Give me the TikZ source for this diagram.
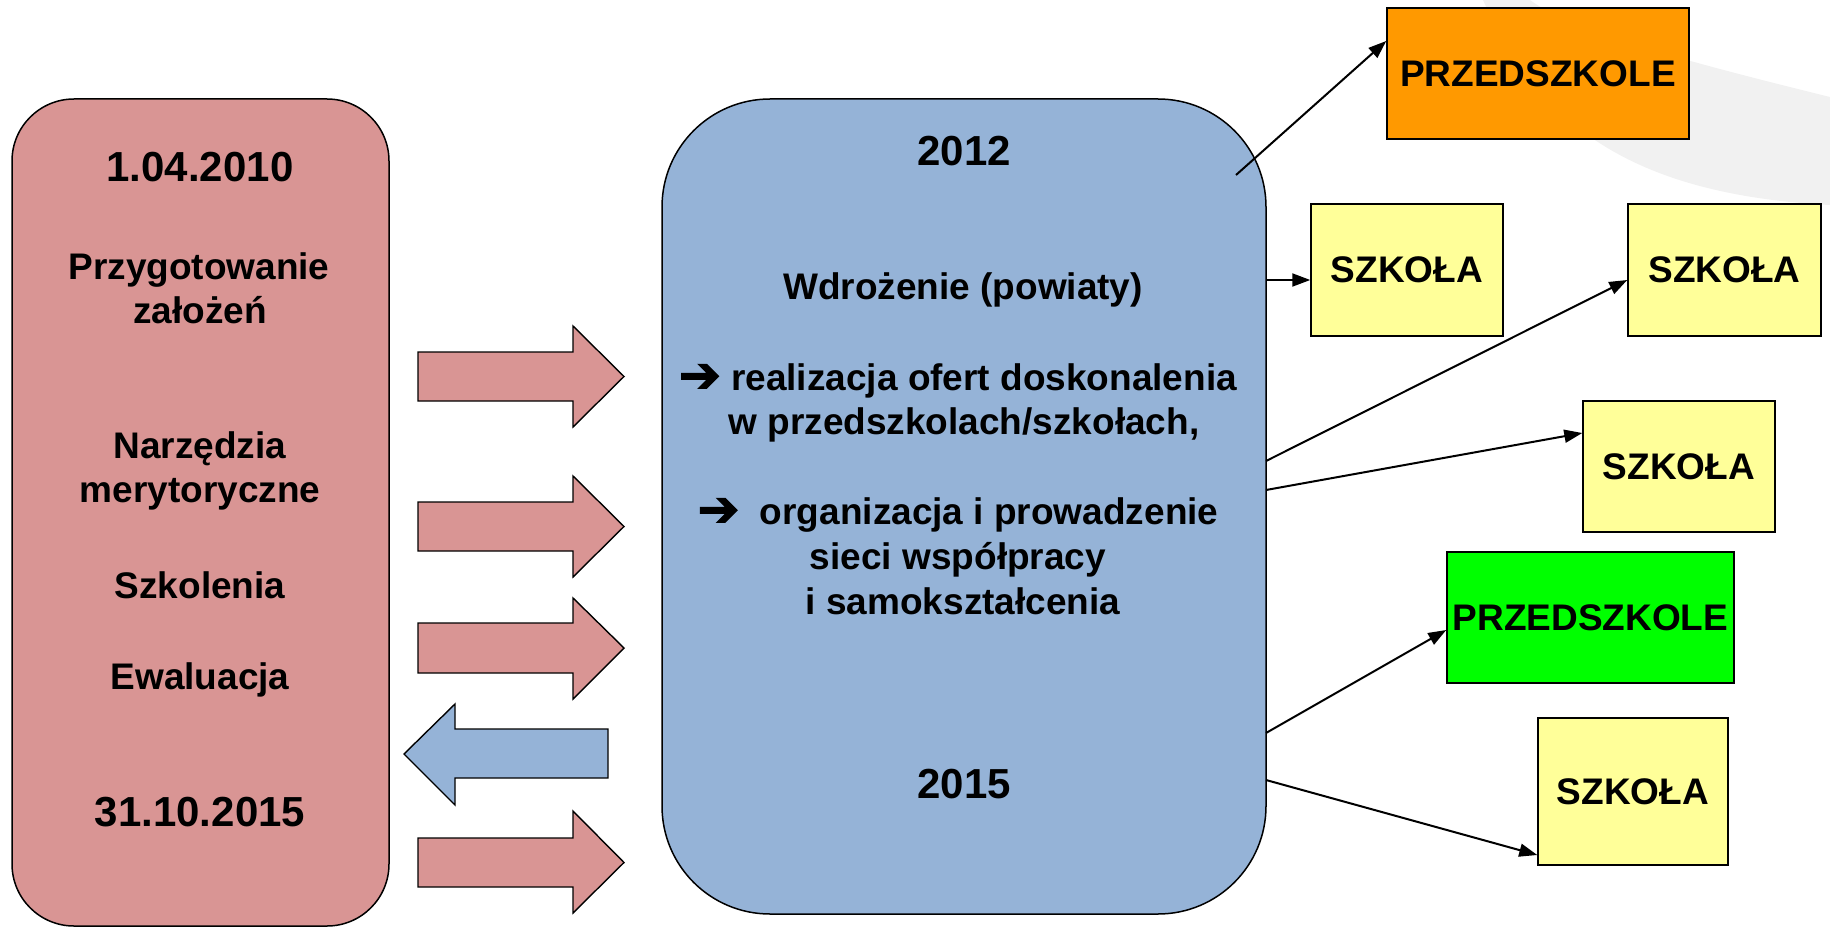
\documentclass[tikz,border=0pt]{standalone}
\usepackage{fontspec}
\setmainfont{Liberation Sans}
\newfontfamily\arrowfont[FakeBold=2.5]{DejaVu Sans Bold}
\usetikzlibrary{arrows.meta}
\definecolor{pinkc}{HTML}{D99594}
\definecolor{bluec}{HTML}{95B3D7}
\definecolor{yellowc}{HTML}{FFFF99}
\definecolor{orangec}{HTML}{FF9900}
\definecolor{greenc}{HTML}{00FF00}
\definecolor{swoosh}{HTML}{F1F1F1}
\newcommand{\bigarr}{{\arrowfont\mdseries\fontsize{50}{44}\selectfont\raisebox{-2pt}{➔}}}
\begin{document}
\begin{tikzpicture}[x=1pt,y=-1pt,
  bigtxt/.style={font=\fontsize{42}{50}\selectfont\bfseries, anchor=base, inner sep=0pt},
  txt/.style={font=\fontsize{37}{44}\selectfont\bfseries, anchor=base, inner sep=0pt},
  roundbox/.style={draw=black, line width=1.5pt},
  unit/.style={draw=black, line width=1.5pt, inner sep=0pt, font=\fontsize{37}{44}\selectfont\bfseries},
  conn/.style={draw=black, line width=2pt, -{Triangle[length=18pt,width=13pt]}},
  blockarrow/.style={draw=black, line width=1.4pt, line join=miter}]
\useasboundingbox (0,0) rectangle (1830,928);
% background swoosh
\fill[swoosh] (1483,0) .. controls (1540,130) and (1640,195) .. (1830,205)
  -- (1830,97) .. controls (1680,60) and (1570,30) .. (1530,0) -- cycle;
% main boxes
\node[roundbox, fill=pinkc, rounded corners=62pt, minimum width=377pt, minimum height=827pt] (left) at (200.5,512.5) {};
\node[roundbox, fill=bluec, rounded corners=108pt, minimum width=604pt, minimum height=815pt] (mid) at (964,506.5) {};
% left texts
\node[bigtxt] (l1) at (200,182) {1.04.2010};
\node[txt] (l2) at (199,279) {Przygotowanie};
\node[txt] (l3) at (200,323) {założeń};
\node[txt] (l4) at (200,458) {Narzędzia};
\node[txt] (l5) at (200,502) {merytoryczne};
\node[txt] (l6) at (200,598) {Szkolenia};
\node[txt] (l7) at (200,689) {Ewaluacja};
\node[bigtxt] (l8) at (200,826) {31.10.2015};
% middle texts
\node[bigtxt] (m1) at (964,166) {2012};
\node[txt] (m2) at (963,299) {Wdrożenie (powiaty)};
\node[txt] (m3) at (958,390) {\bigarr{} realizacja ofert doskonalenia};
\node[txt] (m4) at (964,434) {w przedszkolach/szkołach,};
\node[txt] (m5) at (958,524) {\bigarr\ \ organizacja i prowadzenie};
\node[txt] (m6) at (958,569) {sieci współpracy};
\node[txt] (m7) at (963,614) {i samokształcenia};
\node[bigtxt] (m8) at (964,798) {2015};
% right units
\node[unit, fill=orangec, minimum width=302pt, minimum height=131pt] (p1) at (1538,73.5) {PRZEDSZKOLE};
\node[unit, fill=yellowc, minimum width=192pt, minimum height=132pt] (s1) at (1407,270) {SZKOŁA};
\node[unit, fill=yellowc, minimum width=193pt, minimum height=132pt] (s2) at (1724.5,270) {SZKOŁA};
\node[unit, fill=yellowc, minimum width=192pt, minimum height=131pt] (s3) at (1679,466.5) {SZKOŁA};
\node[unit, fill=greenc, minimum width=287pt, minimum height=131pt] (p2) at (1590.5,617.5) {PRZEDSZKOLE};
\node[unit, fill=yellowc, minimum width=190pt, minimum height=147pt] (s4) at (1633,791.5) {SZKOŁA};
% connectors
\coordinate (c1) at (1236,175);
\coordinate (c2) at (1266,280);
\coordinate (c3) at (1266,461);
\coordinate (c4) at (1266,490);
\coordinate (c5) at (1266,733);
\coordinate (c6) at (1266,780);
\draw[conn] (c1) -- ([yshift=32.5pt]p1.west);
\draw[conn] (c2) -- ([yshift=-10pt]s1.west);
\draw[conn] (c3) -- ([yshift=-10pt]s2.west);
\draw[conn] (c4) -- ([yshift=33.5pt]s3.west);
\draw[conn] (c5) -- ([yshift=-12.5pt]p2.west);
\draw[conn] (c6) -- ([yshift=-63.5pt]s4.west);
% block arrows
\draw[blockarrow, fill=pinkc] (418,352) -- (573,352) -- (573,326) -- (624,376.5) -- (573,427) -- (573,401) -- (418,401) -- cycle;
\draw[blockarrow, fill=pinkc] (418,502) -- (573,502) -- (573,476) -- (624,526.5) -- (573,577) -- (573,551) -- (418,551) -- cycle;
\draw[blockarrow, fill=pinkc] (418,623) -- (573,623) -- (573,598) -- (624,648) -- (573,699) -- (573,673) -- (418,673) -- cycle;
\draw[blockarrow, fill=bluec] (608,729) -- (455,729) -- (455,704) -- (404,754) -- (455,805) -- (455,778) -- (608,778) -- cycle;
\draw[blockarrow, fill=pinkc] (418,838) -- (573,838) -- (573,811) -- (624,862.5) -- (573,913) -- (573,887) -- (418,887) -- cycle;
\end{tikzpicture}
\end{document}
